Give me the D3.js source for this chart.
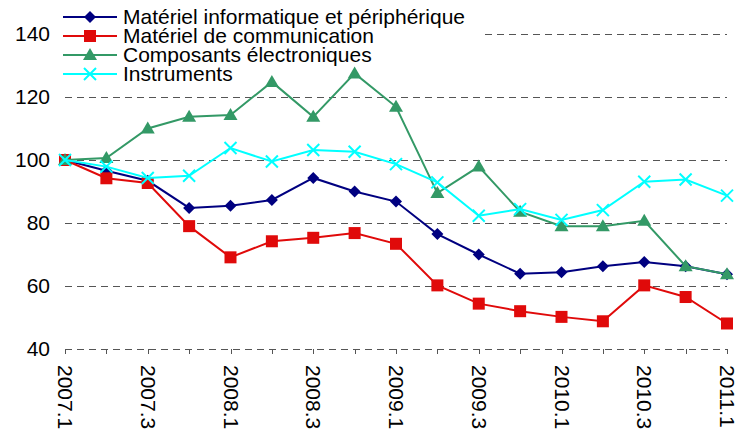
<!DOCTYPE html>
<html>
<head>
<meta charset="utf-8">
<script src="https://cdn.jsdelivr.net/npm/d3@7"></script>
<style>
  body { margin: 0; background: #fff; }
  svg { display: block; font-family: "Liberation Sans", Arial, sans-serif; }
</style>
</head>
<body>
<div id="chart"></div>
<script>
// quarters
var quarters = ["2007.1","2007.2","2007.3","2007.4","2008.1","2008.2","2008.3","2008.4",
  "2009.1","2009.2","2009.3","2009.4","2010.1","2010.2","2010.3","2010.4","2011.1"];
var tickLabels = ["2007.1","2007.3","2008.1","2008.3","2009.1","2009.3","2010.1","2010.3","2011.1"];
var yTicks = [40, 60, 80, 100, 120, 140];

var seriesNames = ["Matériel informatique et périphérique", "Matériel de communication",
  "Composants électroniques", "Instruments"];

var informatique = [100, 96.6, 93.4, 84.8, 85.5, 87.3, 94.3, 90, 86.8, 76.5, 70, 63.9, 64.4, 66.3, 67.6, 66.3, 63.7];
var communication = [100, 94.2, 92.7, 79, 69.1, 74.2, 75.3, 76.8, 73.4, 60.2, 54.4, 52, 50.2, 48.8, 60.2, 56.5, 48.1];
var composants = [100, 100.6, 110, 113.7, 114.3, 124.8, 113.7, 127.5, 116.9, 89.5, 97.9, 83.6, 79, 79, 80.7, 66.3, 63.7];
var instruments = [100, 97.9, 94.3, 95, 103.8, 99.5, 103.2, 102.6, 98.7, 92.9, 82.3, 84.4, 81, 84.1, 93.1, 93.8, 88.7];

var colors = ["#000080", "#e00a0a", "#339966", "#00ffff"];
var shapes = ["diamond", "square", "triangle", "cross"];

var width = 745, height = 432;

var svg = d3.select("#chart").append("svg")
  .attr("width", width)
  .attr("height", height);

var x = d3.scalePoint().domain(quarters).range([65, 727]);
var y = d3.scaleLinear().domain([40, 140]).range([349, 34]);

// gridlines
svg.append("g").selectAll("line")
  .data(yTicks)
  .enter().append("line")
  .attr("x1", 65).attr("x2", 727)
  .attr("y1", d => Math.round(y(d)) + 0.5).attr("y2", d => Math.round(y(d)) + 0.5)
  .attr("stroke", "#555")
  .attr("stroke-width", 1)
  .attr("stroke-dasharray", "7,5");

// y labels
svg.append("g").selectAll("text")
  .data(yTicks)
  .enter().append("text")
  .attr("x", 50)
  .attr("y", d => y(d))
  .attr("dy", "0.35em")
  .attr("text-anchor", "end")
  .style("font-size", "21px")
  .text(d => d);

// x ticks
svg.append("g").selectAll("line")
  .data(quarters)
  .enter().append("line")
  .attr("x1", d => Math.round(x(d)) + 0.5).attr("x2", d => Math.round(x(d)) + 0.5)
  .attr("y1", y(40)).attr("y2", y(40) + 5)
  .attr("stroke", "#555");

// x labels
svg.append("g").selectAll("text")
  .data(tickLabels)
  .enter().append("text")
  .attr("transform", d => "translate(" + (x(d) - 7) + "," + 365 + ") rotate(90)")
  .style("font-size", "21px")
  .text(d => d);

// legend background sits under the lines (hides the top gridline only)
svg.append("rect")
  .attr("x", 58).attr("y", 0).attr("width", 427).attr("height", 44)
  .attr("fill", "#fff");

function marker(sel, shape, color) {
  if (shape == "diamond") {
    sel.append("path").attr("d", "M0,-6L6,0L0,6L-6,0Z").attr("fill", color);
  } else if (shape == "square") {
    sel.append("rect").attr("x", -6).attr("y", -6).attr("width", 12).attr("height", 12).attr("fill", color);
  } else if (shape == "triangle") {
    sel.append("path").attr("d", "M0,-7L7,5L-7,5Z").attr("fill", color);
  } else {
    sel.append("path").attr("d", "M-6,-6L6,6M6,-6L-6,6").attr("stroke", color).attr("stroke-width", 2).attr("fill", "none");
  }
}

var allSeries = [informatique, communication, composants, instruments];
var line = d3.line().x((d, i) => x(quarters[i])).y(d => y(d));

allSeries.forEach(function(vals, s) {
  var g = svg.append("g");
  g.append("path")
    .attr("d", line(vals))
    .attr("fill", "none")
    .attr("stroke", colors[s])
    .attr("stroke-width", 2);
  g.selectAll("g.m")
    .data(vals)
    .enter().append("g")
    .attr("class", "m")
    .attr("transform", (d, i) => "translate(" + x(quarters[i]) + "," + y(d) + ")")
    .each(function() { marker(d3.select(this), shapes[s], colors[s]); });
});

// legend
var legend = svg.append("g");
var item = legend.selectAll("g.item")
  .data(seriesNames)
  .enter().append("g")
  .attr("class", "item")
  .attr("transform", (d, i) => "translate(0," + (17 + i * 19) + ")");
item.append("line")
  .attr("x1", 63).attr("x2", 117)
  .attr("stroke", (d, i) => colors[i])
  .attr("stroke-width", 2);
item.append("g")
  .attr("transform", "translate(90,0)")
  .each(function(d, i) { marker(d3.select(this), shapes[i], colors[i]); });
item.append("text")
  .attr("x", 123)
  .attr("dy", "0.35em")
  .style("font-size", "21px")
  .text(d => d);
</script>
</body>
</html>
